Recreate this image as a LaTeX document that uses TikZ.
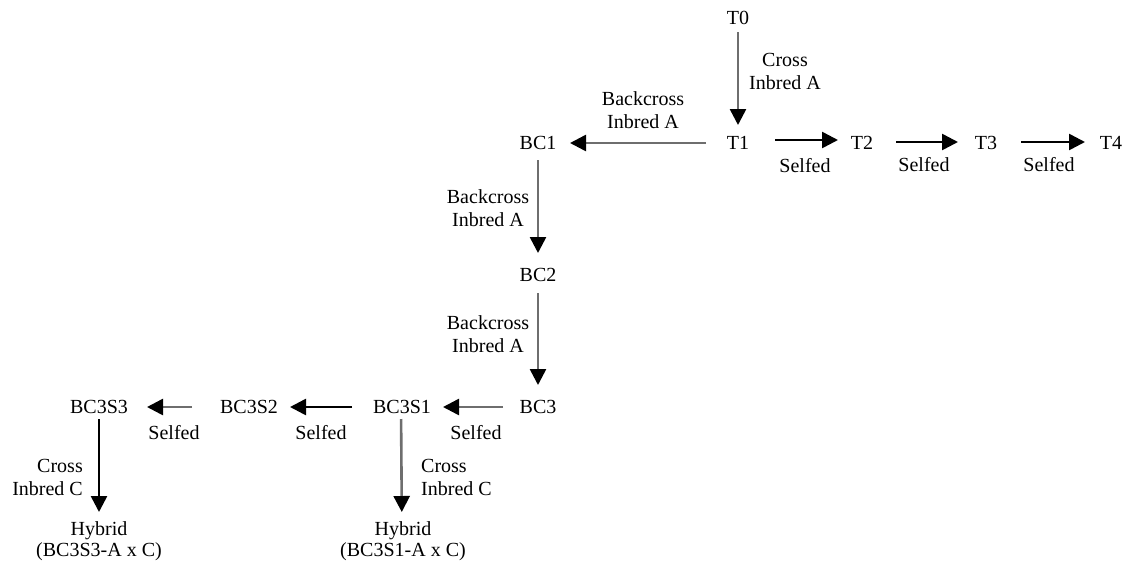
\documentclass[tikz,border=0pt]{standalone}
\usepackage{fontspec}
\setmainfont{Liberation Serif}
\usetikzlibrary{arrows.meta}
\definecolor{lg}{HTML}{6E6E6E}
\tikzset{
  item/.style={inner sep=0pt, font=\fontsize{20}{23}\selectfont},
  lab/.style={inner sep=0pt, align=center, font=\fontsize{20}{23}\selectfont},
  link/.style={line width=2.6pt, -{Triangle[length=16pt,width=16pt,color=black,fill=black]}},
  glink/.style={link, draw=lg},
}
\begin{document}
\begin{tikzpicture}[x=1pt,y=-1pt]
\useasboundingbox (0,0) rectangle (1126,568);
% nodes
\node[item] (T0) at (738,18) {T0};
\node[item] (T1) at (738,143) {T1};
\node[item] (T2) at (862,143) {T2};
\node[item] (T3) at (986,143) {T3};
\node[item] (T4) at (1111,143) {T4};
\node[item] (BC1) at (538,143) {BC1};
\node[item] (BC2) at (538,275) {BC2};
\node[item] (BC3) at (538,407) {BC3};
\node[item] (BC3S1) at (402,407) {BC3S1};
\node[item] (BC3S2) at (249,407) {BC3S2};
\node[item] (BC3S3) at (99,407) {BC3S3};
\node[lab, font=\fontsize{20}{21}\selectfont] (H1) at (99,541) {Hybrid\\(BC3S3-A x C)};
\node[lab, font=\fontsize{20}{21}\selectfont] (H2) at (403,541) {Hybrid\\(BC3S1-A x C)};
% labels
\node[lab] (l1) at (785,71) {Cross\\Inbred A};
\node[lab] (l2) at (643,110) {Backcross\\Inbred A};
\node[lab] (l3) at (805,166) {Selfed};
\node[lab] (l4) at (924,165) {Selfed};
\node[lab] (l5) at (1049,165) {Selfed};
\node[lab] (l6) at (488,208) {Backcross\\Inbred A};
\node[lab] (l7) at (488,334) {Backcross\\Inbred A};
\node[lab] (l8) at (476,433) {Selfed};
\node[lab] (l9) at (321,433) {Selfed};
\node[lab] (l10) at (174,433) {Selfed};
\node[lab, align=right, anchor=east] (l11) at (83,477) {Cross\\Inbred C};
\node[lab, align=left, anchor=west] (l12) at (421,477) {Cross\\Inbred C};
% connectors
\draw[glink, shorten <=14pt, shorten >=18pt] (T0.center) -- (T1.center);
\draw[glink, shorten <=32pt, shorten >=32pt] (T1.center) -- (BC1.center);
\draw[link, shorten <=37pt, shorten >=24pt] ([yshift=3pt]T1.center) -- ([yshift=3pt]T2.center);
\draw[link, shorten <=34pt, shorten >=28pt] ([yshift=1pt]T2.center) -- ([yshift=1pt]T3.center);
\draw[link, shorten <=35pt, shorten >=26pt] ([yshift=1pt]T3.center) -- ([yshift=1pt]T4.center);
\draw[glink, shorten <=17pt, shorten >=22pt] (BC1.center) -- (BC2.center);
\draw[glink, shorten <=18pt, shorten >=22pt] (BC2.center) -- (BC3.center);
\draw[glink, shorten <=35pt, shorten >=41pt] (BC3.center) -- (BC3S1.center);
\draw[link, shorten <=50pt, shorten >=41pt] (BC3S1.center) -- (BC3S2.center);
\draw[glink, shorten <=57pt, shorten >=48pt] (BC3S2.center) -- (BC3S3.center);
\draw[link, shorten <=12pt, shorten >=29pt] (BC3S3.center) -- (H1.center);
\draw[glink, shorten <=12pt, shorten >=29pt] ([xshift=-1pt]BC3S1.center) -- ([xshift=-1pt]H2.center);
\end{tikzpicture}
\end{document}
